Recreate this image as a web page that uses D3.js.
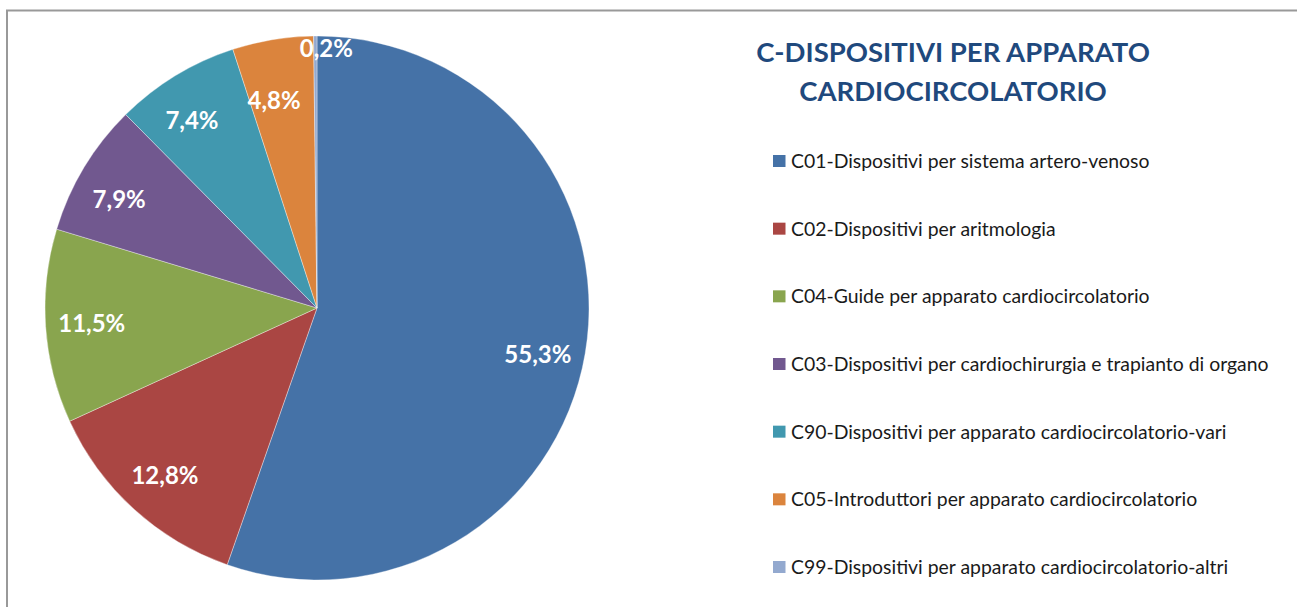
<!DOCTYPE html>
<html><head><meta charset="utf-8">
<script src="https://cdn.jsdelivr.net/npm/d3@7"></script>
<style>body{margin:0;background:#fff;overflow:hidden}svg{display:block}</style>
</head><body>
<svg id="chart" width="1297" height="607"></svg>
<script>
const categories = [
  "C01-Dispositivi per sistema artero-venoso",
  "C02-Dispositivi per aritmologia",
  "C04-Guide per apparato cardiocircolatorio",
  "C03-Dispositivi per cardiochirurgia e trapianto di organo",
  "C90-Dispositivi per apparato cardiocircolatorio-vari",
  "C05-Introduttori per apparato cardiocircolatorio",
  "C99-Dispositivi per apparato cardiocircolatorio-altri"
];
const values = [55.3, 12.8, 11.5, 7.9, 7.4, 4.8, 0.2];
const colors = ["#4572a7", "#aa4643", "#89a54e", "#71588f", "#4198af", "#db843d", "#93a9cf"];
const titleLines = ["C-DISPOSITIVI PER APPARATO", "CARDIOCIRCOLATORIO"];

const svg = d3.select("#chart");
const font = "Lato, 'Open Sans', sans-serif";

// border
svg.append("path").attr("d", "M7,607 V10.5 H1297").attr("fill", "none")
  .attr("stroke", "#999").attr("stroke-width", 2);

const cx = 317, cy = 308, R = 272;
const pie = d3.pie().sort(null).value(d => d)(values);
const arc = d3.arc().innerRadius(0).outerRadius(R);
const g = svg.append("g").attr("transform", `translate(${cx},${cy})`);
g.selectAll("path.slice").data(pie).join("path").attr("class", "slice")
  .attr("d", arc).attr("fill", (d, i) => colors[i])
  .attr("stroke", "#fff").attr("stroke-width", 0.6).attr("stroke-opacity", 0.6);

const fmt = v => d3.format(".1f")(v).replace(".", ",") + "%";
g.selectAll("text.lbl").data(pie).join("text").attr("class", "lbl")
  .each(function(d) {
    const span = d.endAngle - d.startAngle;
    const small = span < 0.05;
    const r = small ? R * 0.955 : (span < 0.35 ? R * 0.78 : R * 0.83);
    const a = (d.startAngle + d.endAngle) / 2 + (span > 2 ? 0.04 : 0) - (span < 0.6 && !small ? 0.04 : 0);
    let x = r * Math.sin(a), y = -r * Math.cos(a);
    if (small) x += 11;
    d3.select(this).attr("x", x).attr("y", y);
  })
  .attr("text-anchor", "middle").attr("dy", "0.36em")
  .attr("fill", "#fff").attr("font-family", font).attr("font-weight", "bold")
  .attr("font-size", 24).text(d => fmt(d.data));

// title
svg.append("g").selectAll("text").data(titleLines).join("text")
  .attr("x", 953).attr("y", (d, i) => 62 + i * 39)
  .attr("text-anchor", "middle").attr("fill", "#1f497d")
  .attr("font-family", font).attr("font-weight", "bold").attr("font-size", 27.5)
  .text(d => d);

// legend
const ly = d3.scalePoint().domain(categories).range([161, 567]);
const lg = svg.append("g").selectAll("g").data(categories).join("g")
  .attr("transform", d => `translate(773,${ly(d)})`);
lg.append("rect").attr("x", 0).attr("y", -6).attr("width", 12.5).attr("height", 12)
  .attr("fill", (d, i) => colors[i]);
lg.append("text").attr("x", 18).attr("y", 7).attr("fill", "#1a1a1a")
  .attr("font-family", font).attr("font-size", 19.4).text(d => d);
</script>
</body></html>
